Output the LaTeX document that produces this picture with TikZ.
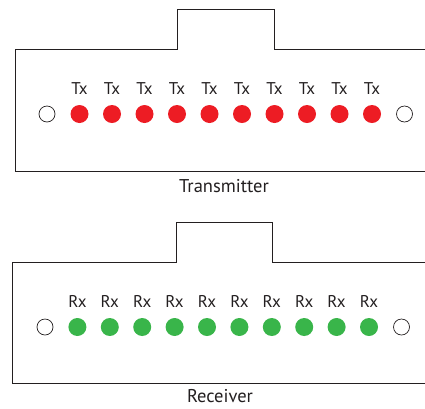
\documentclass[tikz,border=0pt]{standalone}
\usepackage{fontspec}
\setmainfont{PT Sans}
\usetikzlibrary{positioning}
\definecolor{ledred}{HTML}{ED1C24}
\definecolor{ledgreen}{HTML}{39B54A}
\definecolor{inkgrey}{HTML}{231F20}

\tikzset{
  panel/.style={inkgrey, line width=0.9pt},
  led/.style={circle, inner sep=0pt, minimum size=18pt},
  openled/.style={circle, draw=inkgrey, line width=0.7pt, inner sep=0pt, minimum size=16pt},
  ledlabel/.style={inkgrey, font=\fontsize{17}{19}\selectfont},
  caption/.style={inkgrey, font=\fontsize{18.5}{21}\selectfont}
}

\begin{document}
\begin{tikzpicture}[x=1pt, y=-1pt]
  \useasboundingbox (0,0) rectangle (425,408);

  % transmitter panel
  \draw[panel] (425,49) -- (274,49) -- (274,9) -- (177,9) -- (177,49)
    -- (15,49) -- (15,171) -- (425,171);
  \node[openled] (txl) at (47,114) {};
  \foreach \i in {1,...,10} {
    \node[led, fill=ledred] (tx\i) at (47+32.5*\i,114) {};
    \node[ledlabel] (txlab\i) at (47+32.5*\i,89) {Tx};
  }
  \node[openled] (txr) at (404.5,114) {};
  \node[caption] (txcap) at (224,186) {Transmitter};

  % receiver panel
  \draw[panel] (425,262) -- (272,262) -- (272,222) -- (176,222) -- (176,262)
    -- (12,262) -- (12,383) -- (425,383);
  \node[openled] (rxl) at (45,327) {};
  \foreach \i in {1,...,10} {
    \node[led, fill=ledgreen] (rx\i) at (45+32.4*\i,327) {};
    \node[ledlabel] (rxlab\i) at (45+32.4*\i,301) {Rx};
  }
  \node[openled] (rxr) at (401.5,327) {};
  \node[caption] (rxcap) at (220,396.5) {Receiver};
\end{tikzpicture}
\end{document}
